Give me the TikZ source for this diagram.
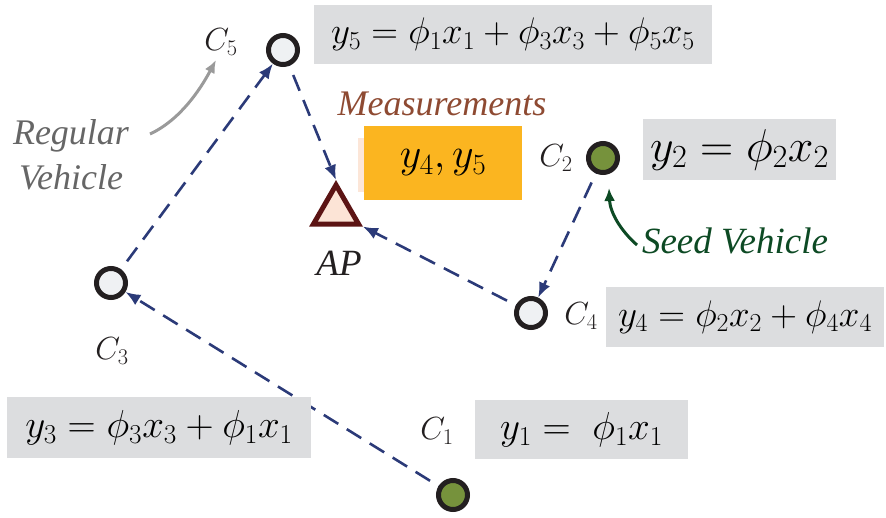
\documentclass[tikz,border=0pt]{standalone}
\usepackage{fix-cm}
\usepackage{fontspec}
\newfontfamily\tnr{Liberation Serif}
\usetikzlibrary{arrows.meta,shapes.geometric,backgrounds}
\definecolor{boxgray}{HTML}{DCDDDF}
\definecolor{orng}{HTML}{FBB520}
\definecolor{peach}{HTML}{FCE6D8}
\definecolor{navy}{HTML}{2B3A78}
\definecolor{lightfill}{HTML}{EFF1F3}
\definecolor{seedgreen}{HTML}{76923C}
\definecolor{rim}{HTML}{231F20}
\definecolor{trifill}{HTML}{FCE4D6}
\definecolor{tridraw}{HTML}{5C1414}
\definecolor{meas}{HTML}{8E4A32}
\definecolor{regtext}{HTML}{666666}
\definecolor{regarrow}{HTML}{9A9A9A}
\definecolor{seedtext}{HTML}{0D4A24}
\tikzset{
  veh/.style={circle,draw=rim,line width=5pt,minimum size=29pt,inner sep=0pt,fill=lightfill},
  seedveh/.style={veh,fill=seedgreen},
  eqbox/.style={fill=boxgray,inner sep=0pt,align=center},
  link/.style={navy,line width=2.6pt,dash pattern=on 17pt off 10pt,-{Latex[length=15pt,width=12pt]}},
  clabel/.style={font=\fontsize{32}{34}\selectfont,text=rim,inner sep=0pt},
  itlabel/.style={inner sep=0pt,align=center},
}
\begin{document}
\begin{tikzpicture}[x=1pt,y=-1pt]
\useasboundingbox (0,0) rectangle (886,517);
% equation boxes
\node[eqbox,minimum width=398pt,minimum height=59pt] (b5) at (513,34.5) {\fontsize{37}{40}\selectfont$y_5=\phi_1x_1+\phi_3x_3+\phi_5x_5$};
\node[eqbox,minimum width=193pt,minimum height=61pt] (b2) at (739.5,149.5) {\fontsize{46}{50}\selectfont$y_2=\phi_2x_2$};
\node[eqbox,minimum width=278pt,minimum height=60pt] (b4) at (745,317) {\fontsize{37}{40}\selectfont$y_4=\phi_2x_2+\phi_4x_4$};
\node[eqbox,minimum width=304pt,minimum height=61pt] (b3) at (159,427.5) {\fontsize{39}{42}\selectfont$y_3=\phi_3x_3+\phi_1x_1$};
\node[eqbox,minimum width=213pt,minimum height=59pt] (b1) at (581.5,429.5) {\fontsize{39}{42}\selectfont$y_1=\;\phi_1x_1$};
\node[fill=peach,minimum width=112pt,minimum height=54pt,inner sep=0pt] (pch) at (414,165) {};
\node[fill=orng,minimum width=158pt,minimum height=74pt,inner sep=0pt] (ob) at (443,163) {\fontsize{42}{46}\selectfont$y_4,y_5$};
% vehicles
\node[veh] (c5) at (283,50) {};
\node[seedveh] (c2) at (603,158) {};
\node[veh] (c4) at (531,313) {};
\node[veh] (c3) at (111,283) {};
\node[seedveh] (c1) at (453,495) {};
\node[regular polygon,regular polygon sides=3,minimum size=52pt,inner sep=0pt,draw=tridraw,fill=trifill,line width=5pt] (ap) at (336,211) {};
% labels
\node[clabel] (l5) at (221,42) {$C_5$};
\node[clabel] (l2) at (556,158) {$C_2$};
\node[clabel] (l4) at (581,316) {$C_4$};
\node[clabel] (l3) at (112,351) {$C_3$};
\node[clabel] (l1) at (437,431) {$C_1$};
\node[itlabel,font=\tnr\itshape\fontsize{37}{39}\selectfont,text=rim] (lap) at (339,263) {AP};
\node[itlabel,font=\tnr\itshape\fontsize{36}{38}\selectfont,text=meas] (lm) at (442,104) {Measurements};
\node[itlabel,font=\tnr\itshape\fontsize{36}{45}\selectfont,text=regtext] (lr) at (71,155) {Regular\\Vehicle};
\node[itlabel,font=\tnr\itshape\fontsize{37}{39}\selectfont,text=seedtext] (ls) at (735,241) {Seed Vehicle};
% annotation arrows
\coordinate (ra) at (150,134);
\coordinate (rb) at (216,60);
\draw[regarrow,line width=3pt,-{Latex[length=13pt,width=11pt]}] (ra) .. controls (180,120) and (200,90) .. (rb);
\coordinate (sa) at (637,245);
\coordinate (sb) at (609,188);
\draw[seedtext,line width=3pt,-{Latex[length=13pt,width=11pt]}] (sa) .. controls (620,230) and (610,212) .. (sb);
% links
\begin{pgfonlayer}{background}
\draw[link] (c1.center) -- (c3);
\draw[link] (c3.center) -- (c5);
\draw[link] (c5.center) -- (ap.corner 1);
\draw[link] (c2.center) -- (c4);
\draw[link] (c4.center) -- (ap.corner 3);
\end{pgfonlayer}
\end{tikzpicture}
\end{document}
